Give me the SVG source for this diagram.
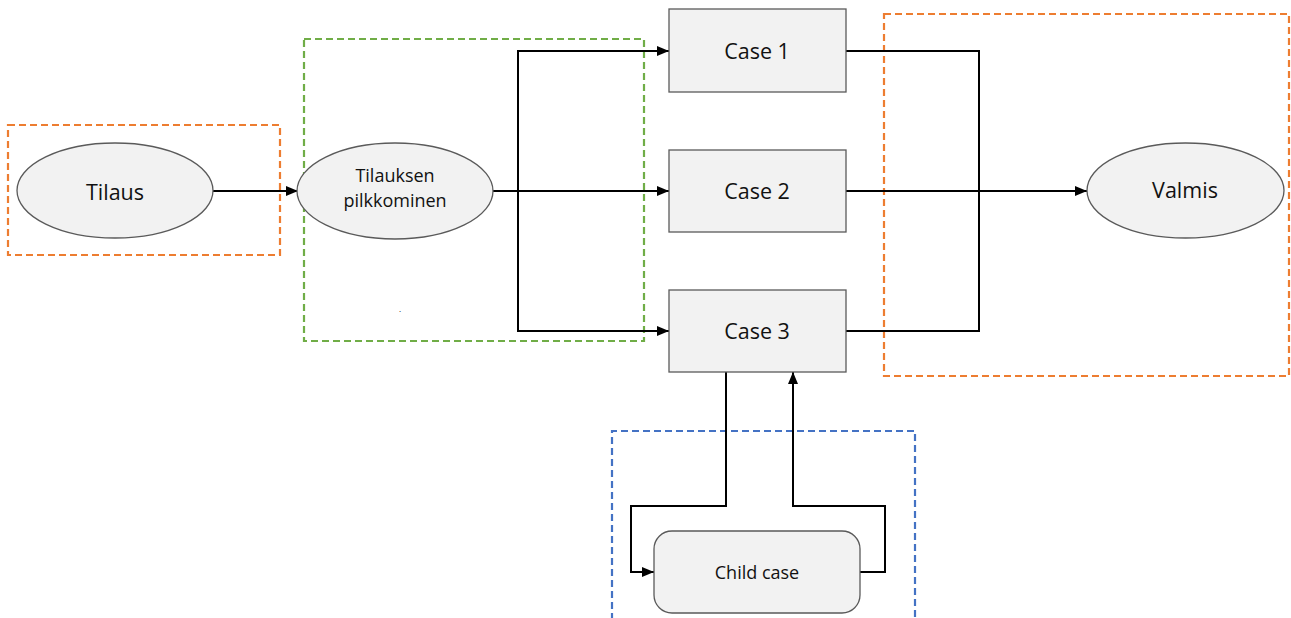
<svg xmlns="http://www.w3.org/2000/svg" width="1291" height="618" viewBox="0 0 1291 618">
<style>
.node{fill:#f2f2f2;stroke:#5a5a5a;stroke-width:1.3}
.lbl{font-family:"Open Sans","Noto Sans",sans-serif;fill:#111;text-anchor:middle;dominant-baseline:central}
.big{font-size:21.5px}
.small{font-size:18px}
.conn{fill:none;stroke:#000;stroke-width:2}
.grp{fill:none;stroke-width:2.2;stroke-dasharray:7 4}
</style>
<defs>
<marker id="arr" viewBox="0 0 12 10" refX="12" refY="5" markerWidth="12" markerHeight="10" markerUnits="userSpaceOnUse" orient="auto">
<path d="M0,0 L12,5 L0,10 Z" fill="#000"/>
</marker>
</defs>
<rect width="1291" height="618" fill="#fff"/>
<g id="groups">
<rect class="grp" x="8" y="125" width="272" height="130" stroke="#ED7D31"/>
<rect class="grp" x="304" y="39" width="340" height="302" stroke="#70AD47"/>
<rect class="grp" x="884" y="14" width="405" height="362" stroke="#ED7D31"/>
<path class="grp" d="M612,620 V431 H915 V620" stroke="#4472C4"/>
</g>
<g id="connectors">
<path class="conn" d="M213,191 H298" marker-end="url(#arr)"/>
<path class="conn" d="M493,191 H669" marker-end="url(#arr)"/>
<path class="conn" d="M518,191 V51 H669" marker-end="url(#arr)"/>
<path class="conn" d="M518,191 V331 H669" marker-end="url(#arr)"/>
<path class="conn" d="M846,191 H1087" marker-end="url(#arr)"/>
<path class="conn" d="M846,51 H979 V191"/>
<path class="conn" d="M846,331 H979 V191"/>
<path class="conn" d="M726,372 V506 H631 V572 H654" marker-end="url(#arr)"/>
<path class="conn" d="M860,572 H885 V506 H793 V372" marker-end="url(#arr)"/>
</g>
<g id="tilaus">
<ellipse class="node" cx="115" cy="190.5" rx="98" ry="47.5"/>
<text class="lbl big" x="115" y="191">Tilaus</text>
</g>
<g id="pilkkominen">
<ellipse class="node" cx="395" cy="191" rx="98" ry="48"/>
<text class="lbl small" x="395" y="175">Tilauksen</text>
<text class="lbl small" x="395" y="200">pilkkominen</text>
<text class="lbl" style="font-size:8px" x="400" y="308">.</text>
</g>
<g id="case1">
<rect class="node" x="669" y="9" width="177" height="83"/>
<text class="lbl big" x="757" y="50">Case 1</text>
</g>
<g id="case2">
<rect class="node" x="669" y="150" width="177" height="82"/>
<text class="lbl big" x="757" y="190">Case 2</text>
</g>
<g id="case3">
<rect class="node" x="669" y="290" width="177" height="82"/>
<text class="lbl big" x="757" y="330">Case 3</text>
</g>
<g id="valmis">
<ellipse class="node" cx="1185.5" cy="190.5" rx="98.5" ry="47.5"/>
<text class="lbl big" x="1185" y="189">Valmis</text>
</g>
<g id="child">
<rect class="node" x="654" y="531" width="206" height="82" rx="18" ry="18"/>
<text class="lbl small" x="757" y="572">Child case</text>
</g>
</svg>
